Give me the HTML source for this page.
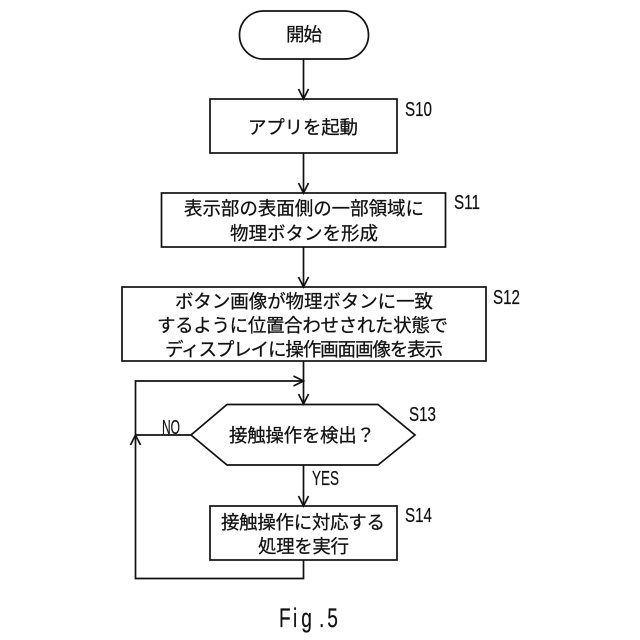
<!DOCTYPE html>
<html lang="ja"><head><meta charset="utf-8"><style>
html,body{margin:0;padding:0;background:#fff;width:640px;height:640px;overflow:hidden}
svg{display:block}
text{fill:#111;font-family:"Liberation Sans","Noto Sans CJK JP",sans-serif}
.j{font-size:18.5px;stroke:#111;stroke-width:.25px}
.l{font-size:20px;stroke:#111;stroke-width:.2px}
</style></head><body>
<svg width="640" height="640" viewBox="0 0 640 640" xmlns="http://www.w3.org/2000/svg">
<g fill="#fff" stroke="#111" stroke-width="1.7">
<rect x="239.500" y="11" width="129" height="48" rx="24" ry="24"/>
<rect x="210" y="99" width="187" height="54"/>
<rect x="161.500" y="193" width="284" height="54"/>
<rect x="122" y="287" width="364" height="74"/>
<polygon points="191,435 227,404.500 378,404.500 415,435 378,465 227,465"/>
<rect x="210" y="506" width="187" height="54"/>
</g>
<g fill="none" stroke="#111" stroke-width="1.7">
<path d="M303.500 59V99M303.500 153V193M303.500 247V287M303.500 361V404M303.500 465V506"/>
<path d="M303.500 560V578.500H135.500V381H303.500"/>
<path d="M191 435H135.500"/>
<path d="M298.500 89L303.500 99L308.500 89M298.500 183L303.500 193L308.500 183M298.500 277L303.500 287L308.500 277M298.500 394L303.500 404L308.500 394M298.500 496L303.500 506L308.500 496"/>
<path d="M293.500 376L303.500 381L293.500 386"/>
<path d="M130.500 445L135.500 435L140.500 445"/>
</g>
<g>
<text x="286" y="41" textLength="36" class="j">開始</text>
<text x="248" y="134" textLength="110" class="j">アプリを起動</text>
<text x="184" y="215" textLength="240" class="j">表示部の表面側の一部領域に</text>
<text x="230" y="240" textLength="148" class="j">物理ボタンを形成</text>
<text x="175" y="308" textLength="258" class="j">ボタン画像が物理ボタンに一致</text>
<text x="157" y="332" textLength="291" class="j">するように位置合わせされた状態で</text>
<text x="165" y="356" textLength="278" class="j">ディスプレイに操作画面画像を表示</text>
<text x="229" y="442" textLength="146" class="j">接触操作を検出？</text>
<text x="221" y="529" textLength="164" class="j">接触操作に対応する</text>
<text x="258" y="553" textLength="91" class="j">処理を実行</text>
</g>
<g>
<text x="405" y="116" textLength="27" lengthAdjust="spacingAndGlyphs" class="l">S10</text>
<text x="454" y="209" textLength="26" lengthAdjust="spacingAndGlyphs" class="l">S11</text>
<text x="493" y="304" textLength="27" lengthAdjust="spacingAndGlyphs" class="l">S12</text>
<text x="409" y="421" textLength="27" lengthAdjust="spacingAndGlyphs" class="l">S13</text>
<text x="405" y="522" textLength="27" lengthAdjust="spacingAndGlyphs" class="l">S14</text>
<text x="162" y="434" textLength="18" lengthAdjust="spacingAndGlyphs" class="l">NO</text>
<text x="312" y="485" textLength="27" lengthAdjust="spacingAndGlyphs" class="l">YES</text>
</g>
<text transform="translate(279 627) scale(.72 1)" x="0 19.400 31 55.500 67" y="0" style="font-size:26.500px;stroke:#111;stroke-width:.2px">Fig.5</text>
</svg>
</body></html>
